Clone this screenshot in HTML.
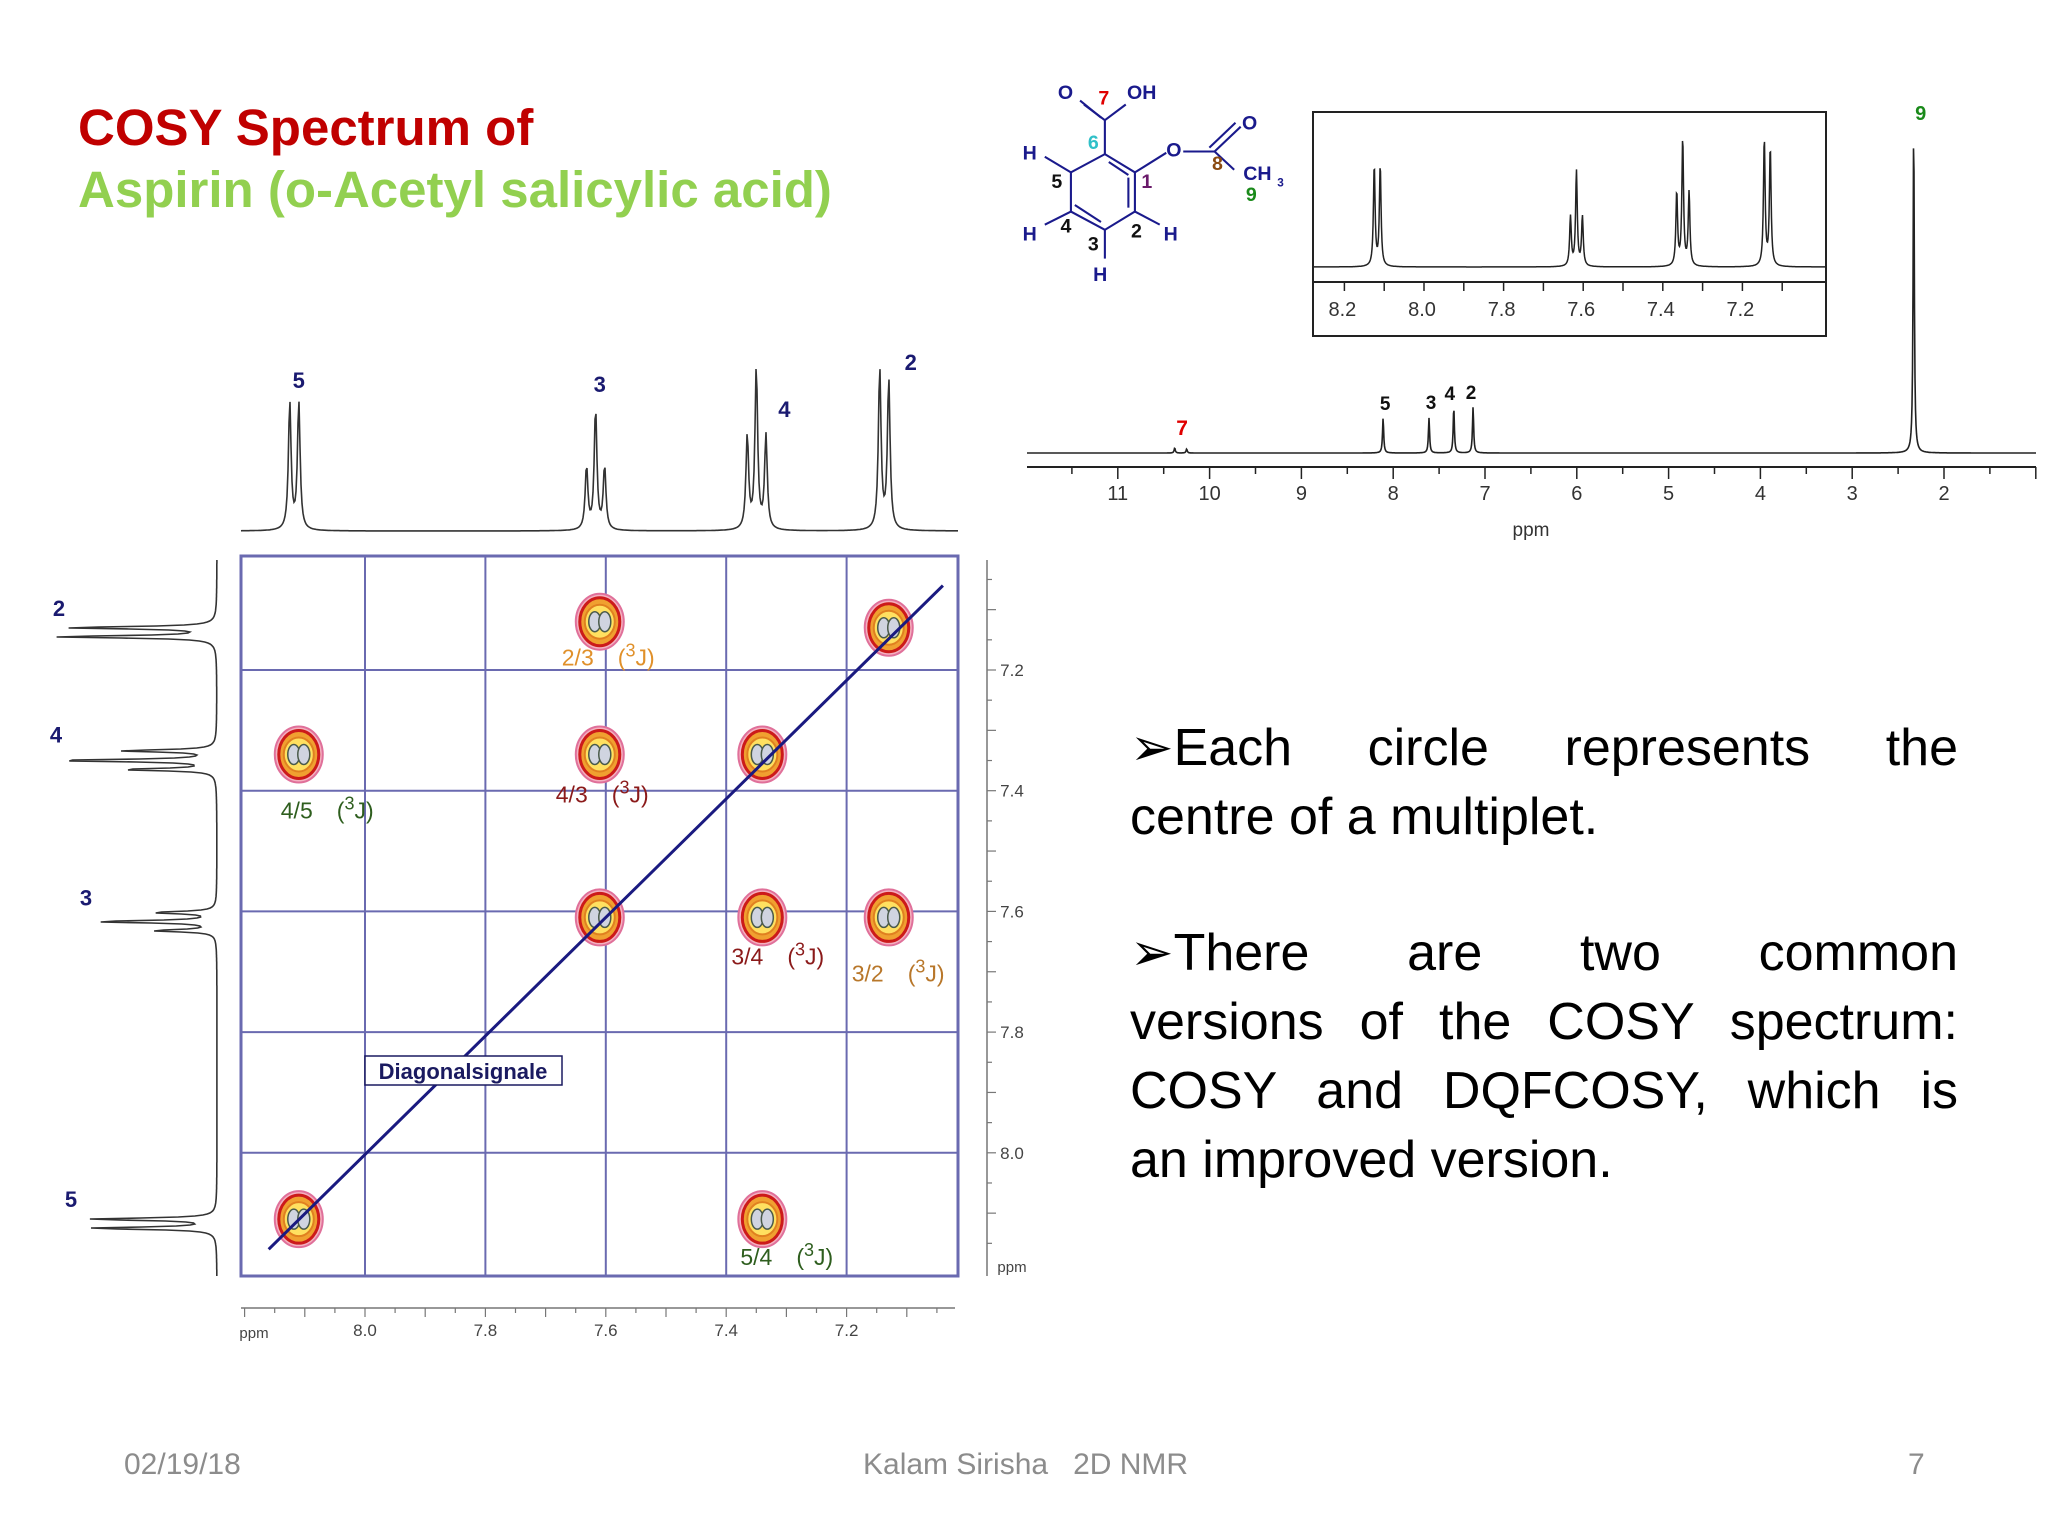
<!DOCTYPE html>
<html><head><meta charset="utf-8">
<style>
html,body{margin:0;padding:0;background:#fff;}
#root{position:relative;width:2048px;height:1536px;overflow:hidden;background:#fff;font-family:"Liberation Sans",sans-serif;}
.title{position:absolute;left:78px;font-weight:bold;font-size:51px;white-space:nowrap;}
.bullets{position:absolute;left:1130px;width:828px;font-size:52px;line-height:69px;color:#000;}
.bullets div{text-align:justify;text-align-last:justify;white-space:nowrap;}
.bullets div.last{text-align-last:left;}
.foot{position:absolute;top:1448px;font-size:30px;color:#8c8c8c;font-family:"Liberation Sans","DejaVu Sans",sans-serif;}
svg{position:absolute;left:0;top:0;}
</style></head>
<body>
<div id="root">
<div class="title" style="top:98px;color:#c00000">COSY Spectrum of</div>
<div class="title" style="top:160px;color:#92d050">Aspirin (o-Acetyl salicylic acid)</div>

<svg id="chart" width="2048" height="1536" viewBox="0 0 2048 1536" font-family="Liberation Sans, sans-serif">
<g id="mol" transform="scale(1.306)" font-family="Liberation Sans, sans-serif" font-weight="bold" font-size="15">
 <g stroke="#1a1a8c" stroke-width="1.6" fill="none">
  <polyline points="846,118 869,132 869,162 846,176 820,162 820,132 846,118"/>
  <line x1="849" y1="124" x2="864" y2="134"/><line x1="864" y1="136" x2="864" y2="159"/><line x1="823" y1="157" x2="843" y2="170"/>
  <line x1="846" y1="118" x2="846" y2="92"/><line x1="846" y1="92" x2="830" y2="80"/><line x1="843" y1="90" x2="827" y2="77"/><line x1="846" y1="92" x2="862" y2="80"/>
  <line x1="869" y1="132" x2="893" y2="117"/><line x1="906" y1="116" x2="930" y2="116"/><line x1="930" y1="116" x2="950" y2="97"/><line x1="926" y1="113" x2="946" y2="94"/><line x1="930" y1="116" x2="945" y2="130"/>
  <line x1="820" y1="132" x2="800" y2="120"/><line x1="820" y1="162" x2="800" y2="172"/><line x1="869" y1="162" x2="888" y2="172"/><line x1="846" y1="176" x2="846" y2="198"/>
 </g>
 <g fill="#1a1a8c">
  <text x="810" y="76">O</text><text x="863" y="76">OH</text><text x="893" y="120">O</text><text x="951" y="99">O</text>
  <text x="952" y="138">CH</text><text x="978" y="143" font-size="9">3</text>
  <text x="783" y="122">H</text><text x="783" y="184">H</text><text x="891" y="184">H</text><text x="837" y="215">H</text>
  <text x="805" y="144" fill="#111">5</text><text x="812" y="178" fill="#111">4</text><text x="833" y="192" fill="#111">3</text><text x="866" y="182" fill="#111">2</text>
 </g>
 <text x="841" y="80" fill="#e00000">7</text><text x="833" y="114" fill="#30c0c8">6</text><text x="874" y="144" fill="#6a1a6a">1</text>
 <text x="928" y="130" fill="#8b4a10">8</text><text x="954" y="154" fill="#1a8a1a">9</text>
</g>
</svg>

<div class="bullets" style="top:714px">
<div>&#10146;Each circle represents the</div>
<div class="last">centre of a multiplet.</div>
</div>
<div class="bullets" style="top:919px">
<div>&#10146;There are two common</div>
<div>versions of the COSY spectrum:</div>
<div>COSY and DQFCOSY, which is</div>
<div class="last">an improved version.</div>
</div>

<div class="foot" style="left:124px">02/19/18</div>
<div class="foot" style="left:863px">Kalam Sirisha &nbsp; 2D NMR</div>
<div class="foot" style="left:1908px">7</div>
</div>

<script>
// ---- data ----
const protonLabels = ['5','3','4','2'];
const protonShifts = [8.11, 7.61, 7.34, 7.13];
const lineShifts = [8.125, 8.110, 7.632, 7.617, 7.602, 7.365, 7.350, 7.334, 7.145, 7.130];
const lineHeights = [0.79, 0.79, 0.39, 0.75, 0.39, 0.58, 1.0, 0.58, 1.0, 0.93];
const crossX = [7.61, 7.13, 8.11, 7.61, 7.34, 7.61, 7.34, 7.13, 8.11, 7.34];
const crossY = [7.12, 7.13, 7.34, 7.34, 7.34, 7.61, 7.61, 7.61, 8.11, 8.11];
const crossLabel = ['2/3', '', '4/5', '4/3', '', '', '3/4', '3/2', '', '5/4'];
const crossColor = ['#e0902a', '', '#2e5e1e', '#8b1a1a', '', '', '#8b1a1a', '#b8772a', '', '#2e5e1e'];
const cosyTicks = ['8.0', '7.8', '7.6', '7.4', '7.2'];
const mainShifts = [10.38, 10.25, 8.11, 7.61, 7.34, 7.13, 2.33];
const mainHeights = [5, 4, 35, 35, 46, 46, 331];
const mainTicks = ['11','10','9','8','7','6','5','4','3','2'];
const insetTicks = ['8.2','8.0','7.8','7.6','7.4','7.2'];

const NS = 'http://www.w3.org/2000/svg';
const svg = document.getElementById('chart');
function mk(tag, attrs, parent) {
  const e = document.createElementNS(NS, tag);
  for (const k in attrs) e.setAttribute(k, attrs[k]);
  (parent || svg).appendChild(e);
  return e;
}
function txt(s, x, y, attrs, parent) { const t = mk('text', Object.assign({x: x, y: y}, attrs), parent); t.textContent = s; return t; }
function lor(d, w) { return 1 / (1 + (d / w) * (d / w)); }

// ---- COSY axes ----
const cx = p => 365 + (8.0 - p) * 602;
const cy = p => 670 + (p - 7.2) * 603.5;
const cosy = mk('g', {});


const frame = mk('rect', {x: 241, y: 556, width: 717, height: 720, fill: 'none', stroke: '#6a6ab0', 'stroke-width': 3}, cosy);


cosyTicks.forEach(t => {
  const v = parseFloat(t);
  const gv = mk('line', {x1: cx(v), x2: cx(v), y1: 556, y2: 1276, stroke: '#6a6ab0', 'stroke-width': 2}, cosy);
  
  
  const gh = mk('line', {x1: 241, x2: 958, y1: cy(v), y2: cy(v), stroke: '#6a6ab0', 'stroke-width': 2}, cosy);
  
  
  const tb = txt(t, cx(v), 1336, {'font-size': 17, fill: '#444', 'text-anchor': 'middle'}, cosy);
  
  
  const tr = txt(t, 1012, cy(v) + 6, {'font-size': 17, fill: '#444', 'text-anchor': 'middle'}, cosy);
  
  
});
mk('line', {x1: 241, x2: 955, y1: 1308, y2: 1308, stroke: '#777', 'stroke-width': 1.5}, cosy);
mk('line', {x1: 987, x2: 987, y1: 560, y2: 1276, stroke: '#777', 'stroke-width': 1.5}, cosy);
for (let p = 8.2; p >= 7.0; p -= 0.05) {
  const major = Math.abs(Math.round(p * 10) - p * 10) < 0.01;
  if (cx(p) >= 240 && cx(p) <= 958) mk('line', {x1: cx(p), x2: cx(p), y1: 1308, y2: 1308 + (major ? 9 : 5), stroke: '#777', 'stroke-width': 1.2}, cosy);
  if (cy(p) >= 560 && cy(p) <= 1270) mk('line', {x1: 987, x2: 987 + (major ? 9 : 5), y1: cy(p), y2: cy(p), stroke: '#777', 'stroke-width': 1.2}, cosy);
}
txt('ppm', 254, 1338, {'font-size': 15, fill: '#444', 'text-anchor': 'middle'}, cosy);
txt('ppm', 1012, 1272, {'font-size': 15, fill: '#444', 'text-anchor': 'middle'}, cosy);

let dTop = '', dLeft = '';
for (let x = 241; x <= 958; x++) {
  const p = 8.0 - (x - 365) / 602;
  let s = 0;
  lineShifts.forEach((c, i) => { s += lineHeights[i] * lor((p - c) * 602, 1.6); });
  dTop += (x === 241 ? 'M' : 'L') + x + ',' + (531 - s * 162).toFixed(1);
}
for (let y = 560; y <= 1276; y++) {
  const p = 7.2 + (y - 670) / 603.5;
  let s = 0;
  lineShifts.forEach((c, i) => { s += lineHeights[i] * lor((p - c) * 603.5, 1.4); });
  dLeft += (y === 560 ? 'M' : 'L') + (217 - s * 160).toFixed(1) + ',' + y;
}
const pt = mk('path', {d: dTop, fill: 'none', stroke: '#333', 'stroke-width': 1.6}, cosy);


const pl = mk('path', {d: dLeft, fill: 'none', stroke: '#333', 'stroke-width': 1.6}, cosy);


const topLabY = [388, 392, 417, 370];
const topLabDx = [0, 0, 22, 22];
const leftLabX = [71, 86, 56, 59];
protonShifts.forEach((p, i) => {
  const a = txt(protonLabels[i], cx(p) + topLabDx[i], topLabY[i], {'font-size': 22, 'font-weight': 'bold', fill: '#1a1a70', 'text-anchor': 'middle'}, cosy);
  
  
  const b = txt(protonLabels[i], leftLabX[i], cy(p) - 12, {'font-size': 22, 'font-weight': 'bold', fill: '#1a1a70', 'text-anchor': 'middle'}, cosy);
  
  
});

// label offsets relative to peak (style only)
const labOffX = {'2/3': -38, '4/5': -18, '4/3': -44, '3/4': -31, '3/2': -37, '5/4': -22};
const labOffY = {'2/3': 44, '4/5': 64, '4/3': 48, '3/4': 47, '3/2': 64, '5/4': 46};
crossX.forEach((px, i) => {
  const g = mk('g', {transform: 'translate(' + cx(px) + ',' + cy(crossY[i]) + ')'}, cosy);
  
  
  mk('ellipse', {cx: 0, cy: 0, rx: 24, ry: 28, fill: '#f4b0c0', stroke: '#e0709a', 'stroke-width': 2}, g);
  mk('ellipse', {cx: 0, cy: 0, rx: 20, ry: 24, fill: '#f0a030', stroke: '#cc1a1a', 'stroke-width': 3}, g);
  mk('ellipse', {cx: 0, cy: 0, rx: 15, ry: 17, fill: '#ffe060', stroke: '#e08020', 'stroke-width': 2}, g);
  mk('ellipse', {cx: -5, cy: 0, rx: 6, ry: 10, fill: '#d0d4e0', stroke: '#4a5a4a', 'stroke-width': 1.5}, g);
  mk('ellipse', {cx: 5, cy: 0, rx: 6, ry: 10, fill: '#d0d4e0', stroke: '#4a5a4a', 'stroke-width': 1.5}, g);
  if (crossLabel[i]) {
    const lx = cx(px) + labOffX[crossLabel[i]], ly = cy(crossY[i]) + labOffY[crossLabel[i]];
    const t = txt(crossLabel[i], lx, ly, {'font-size': 23, fill: crossColor[i]}, cosy);
    
    
    const j = mk('text', {x: lx + 56, y: ly, 'font-size': 23, fill: crossColor[i]}, cosy);
    j.innerHTML = '(<tspan dy="-9" font-size="18">3</tspan><tspan dy="9">J)</tspan>';
    
    
  }
});
const dg = mk('line', {x1: cx(8.16), y1: cy(8.16), x2: cx(7.04), y2: cy(7.06), stroke: '#1a1a80', 'stroke-width': 3}, cosy);


const db = mk('rect', {x: 365, y: 1056, width: 197, height: 29, fill: '#fff', stroke: '#1a1a60', 'stroke-width': 1.5}, cosy);


const dt = txt('Diagonalsignale', 463, 1079, {'font-size': 22, 'font-weight': 'bold', fill: '#1a1a60', 'text-anchor': 'middle'}, cosy);



// ---- main 1D spectrum ----
const mx = p => 1944 + (2 - p) * 91.8;
const sp = mk('g', {});


let dm = '';
for (let x = 1027; x <= 2036; x += 0.5) {
  const p = 2 - (x - 1944) / 91.8;
  let s = 0;
  mainShifts.forEach((c, i) => { s += mainHeights[i] * lor((p - c) * 91.8, 0.7); });
  dm += (x === 1027 ? 'M' : 'L') + x + ',' + (453 - s).toFixed(1);
}
const mp = mk('path', {d: dm, fill: 'none', stroke: '#222', 'stroke-width': 1.6}, sp);


mk('line', {x1: 1027, x2: 2036, y1: 467, y2: 467, stroke: '#222', 'stroke-width': 2}, sp);
for (let p = 12.5; p >= 1.0; p -= 0.5) {
  const x = mx(p);
  if (x < 1027 || x > 2036) continue;
  mk('line', {x1: x, x2: x, y1: 467, y2: Number.isInteger(p) ? 479 : 474, stroke: '#222', 'stroke-width': 1.5}, sp);
}
mainTicks.forEach(t => {
  const l = txt(t, mx(parseFloat(t)), 500, {'font-size': 20, fill: '#333', 'text-anchor': 'middle'}, sp);
  
  
});
txt('ppm', 1531, 536, {'font-size': 19, fill: '#333', 'text-anchor': 'middle'}, sp);
const specLab = ['5', '3', '4', '2'];
const specLabY = [410, 409, 400, 399];
protonShifts.forEach((p, i) => {
  const l = txt(specLab[i], mx(p) + (i === 2 ? -4 : i === 3 ? -2 : 2), specLabY[i], {'font-size': 19, 'font-weight': 'bold', fill: '#111', 'text-anchor': 'middle'}, sp);
  
  
});
txt('7', mx(10.3), 435, {'font-size': 21, 'font-weight': 'bold', fill: '#e00000', 'text-anchor': 'middle'}, sp);
txt('9', mx(2.33) + 7, 120, {'font-size': 20, 'font-weight': 'bold', fill: '#1a8a1a', 'text-anchor': 'middle'}, sp);

// ---- inset ----
const ix = p => 1424 + (8.0 - p) * 398;
const ins = mk('g', {});


mk('rect', {x: 1313, y: 112, width: 513, height: 224, fill: '#fff', stroke: '#222', 'stroke-width': 2}, ins);
let di = '';
for (let x = 1314; x <= 1825; x += 0.5) {
  const p = 8.0 - (x - 1424) / 398;
  let s = 0;
  lineShifts.forEach((c, i) => { s += lineHeights[i] * lor((p - c) * 398, 1.0); });
  di += (x === 1314 ? 'M' : 'L') + x + ',' + (267 - s * 127).toFixed(1);
}
mk('path', {d: di, fill: 'none', stroke: '#222', 'stroke-width': 1.5}, ins);
mk('line', {x1: 1313, x2: 1826, y1: 282, y2: 282, stroke: '#222', 'stroke-width': 2}, ins);
for (let k = -1; k <= 11; k++) {
  const p = 8.2 - k * 0.1;
  const x = ix(p);
  if (x < 1315 || x > 1824) continue;
  mk('line', {x1: x, x2: x, y1: 282, y2: 291, stroke: '#222', 'stroke-width': 1.5}, ins);
}
insetTicks.forEach(t => {
  const l = txt(t, ix(parseFloat(t)) - 2, 316, {'font-size': 20, fill: '#333', 'text-anchor': 'middle'}, ins);
  
  
});
svg.appendChild(document.getElementById('mol'));
</script>
</body></html>
